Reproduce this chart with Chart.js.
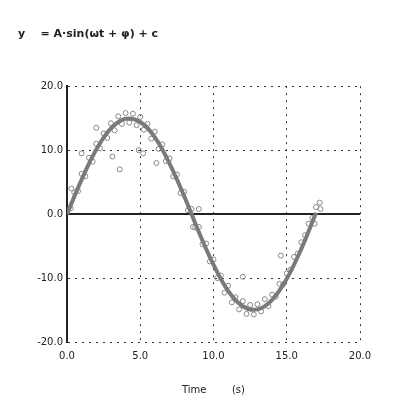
<!DOCTYPE html>
<html lang="en">
<head>
    <meta charset="UTF-8">
    <title>Sine fit</title>
    <script src="https://cdn.jsdelivr.net/npm/chart.js"></script>
    <style>
        body { margin: 0; background: #fff; }
        #wrap { width: 409px; height: 414px; }
    </style>
</head>
<body>
    <div id="wrap"><canvas id="fitChart"></canvas></div>

    <script>
        // fitted curve
        const fitX = [0, 1, 2, 3, 4, 5, 6, 7, 8, 9, 10, 11, 12, 13, 14, 15, 16, 17];
        const fitY = [0, 5.4, 10.1, 13.4, 14.9, 14.4, 12.0, 7.9, 2.8, -2.8, -7.9, -12.0, -14.4, -14.9, -13.4, -10.1, -5.4, 0.2];

        // measured points (noisy)
        const measX = [0, 0.25, 0.5, 0.75, 1, 1.25, 1.5, 1.75, 2, 2.25, 2.5, 2.75, 3, 3.25, 3.5, 3.75, 4, 4.25, 4.5, 4.75,
            5, 5.25, 5.5, 5.75, 6, 6.25, 6.5, 6.75, 7, 7.25, 7.5, 7.75, 8, 8.25, 8.5, 8.75, 9, 9.25, 9.5, 9.75,
            10, 10.25, 10.5, 10.75, 11, 11.25, 11.5, 11.75, 12, 12.25, 12.5, 12.75, 13, 13.25, 13.5, 13.75, 14, 14.25, 14.5, 14.75,
            15, 15.25, 15.5, 15.75, 16, 16.25, 16.5, 16.75, 17, 17.25,
            0.3, 1.0, 2.0, 3.1, 3.6, 4.9, 5.2, 6.1, 8.6, 9.0, 12.0, 14.6, 16.9, 17.3];
        const measY = [0.6, 0.9, 3.4, 3.6, 6.3, 5.9, 8.8, 8.2, 11.0, 10.3, 12.6, 11.9, 14.2, 13.1, 15.3, 14.1, 15.8, 14.3, 15.7, 13.9,
            15.2, 13.2, 14.1, 11.8, 12.9, 10.2, 10.9, 8.3, 8.7, 5.9, 6.2, 3.3, 3.5, 0.6, 0.8, -2.1, -2.0, -4.7, -4.6, -7.4,
            -7.1, -10.0, -9.6, -12.3, -11.2, -13.8, -13.0, -14.9, -13.6, -15.6, -14.2, -15.7, -14.1, -15.2, -13.3, -14.4, -12.6, -12.9, -10.9, -11.0,
            -9.3, -8.7, -6.7, -6.2, -4.4, -3.3, -1.5, -0.6, 1.1, 1.8,
            4.0, 9.5, 13.5, 9.0, 7.0, 10.0, 9.5, 8.0, -2.0, 0.8, -9.8, -6.5, -1.5, 0.8];

        const xTicks = [0, 5, 10, 15, 20];
        const yTicks = [-20, -10, 0, 10, 20];
        const zeroLineX = [0, 20];

        const toPts = (xs, ys) => xs.map((x, i) => ({ x: x, y: ys[i] }));

        const ctx = document.getElementById('fitChart').getContext('2d');
        const chart = new Chart(ctx, {
            type: 'scatter',
            data: {
                datasets: [
                    {
                        label: 'zero',
                        type: 'line',
                        data: zeroLineX.map(x => ({ x: x, y: 0 })),
                        borderColor: '#222',
                        borderWidth: 2,
                        pointRadius: 0,
                        order: 3
                    },
                    {
                        label: 'data',
                        data: toPts(measX, measY),
                        backgroundColor: 'rgba(255,255,255,0)',
                        borderColor: '#888',
                        borderWidth: 1,
                        pointRadius: 2.5,
                        order: 2
                    },
                    {
                        label: 'fit',
                        type: 'line',
                        data: toPts(fitX, fitY),
                        borderColor: '#7a7a7a',
                        borderWidth: 4,
                        pointRadius: 0,
                        tension: 0.4,
                        fill: false,
                        order: 1
                    }
                ]
            },
            options: {
                animation: false,
                responsive: true,
                maintainAspectRatio: false,
                layout: { padding: { left: 18, right: 49, top: 28, bottom: 14 } },
                plugins: {
                    legend: { display: false },
                    tooltip: { enabled: false },
                    title: {
                        display: true,
                        text: 'y    = A·sin(ωt + φ) + c',
                        align: 'start',
                        color: '#222',
                        font: { family: 'DejaVu Sans', size: 11 },
                        padding: { top: 0, bottom: 45 }
                    }
                },
                scales: {
                    x: {
                        type: 'linear',
                        min: 0, max: 20,
                        afterBuildTicks: s => { s.ticks = xTicks.map(v => ({ value: v })); },
                        ticks: {
                            color: '#222',
                            font: { family: 'DejaVu Sans', size: 10 },
                            callback: v => v.toFixed(1),
                            maxRotation: 0,
                            padding: 8
                        },
                        grid: { color: '#333', lineWidth: 1, drawTicks: false },
                        border: { display: false, dash: [2, 5] },
                        title: {
                            display: true,
                            text: 'Time        (s)',
                            color: '#222',
                            font: { family: 'DejaVu Sans', size: 10 },
                            padding: { top: 14 }
                        }
                    },
                    y: {
                        min: -20, max: 20,
                        afterBuildTicks: s => { s.ticks = yTicks.map(v => ({ value: v })); },
                        afterFit: s => { s.width = 49; },
                        ticks: {
                            color: '#222',
                            font: { family: 'DejaVu Sans', size: 10 },
                            callback: v => v.toFixed(1),
                            padding: 4
                        },
                        grid: { color: '#333', lineWidth: 1, drawTicks: false },
                        border: { display: true, color: '#222', width: 2, dash: [2, 5] }
                    }
                }
            }
        });
    </script>
</body>
</html>
